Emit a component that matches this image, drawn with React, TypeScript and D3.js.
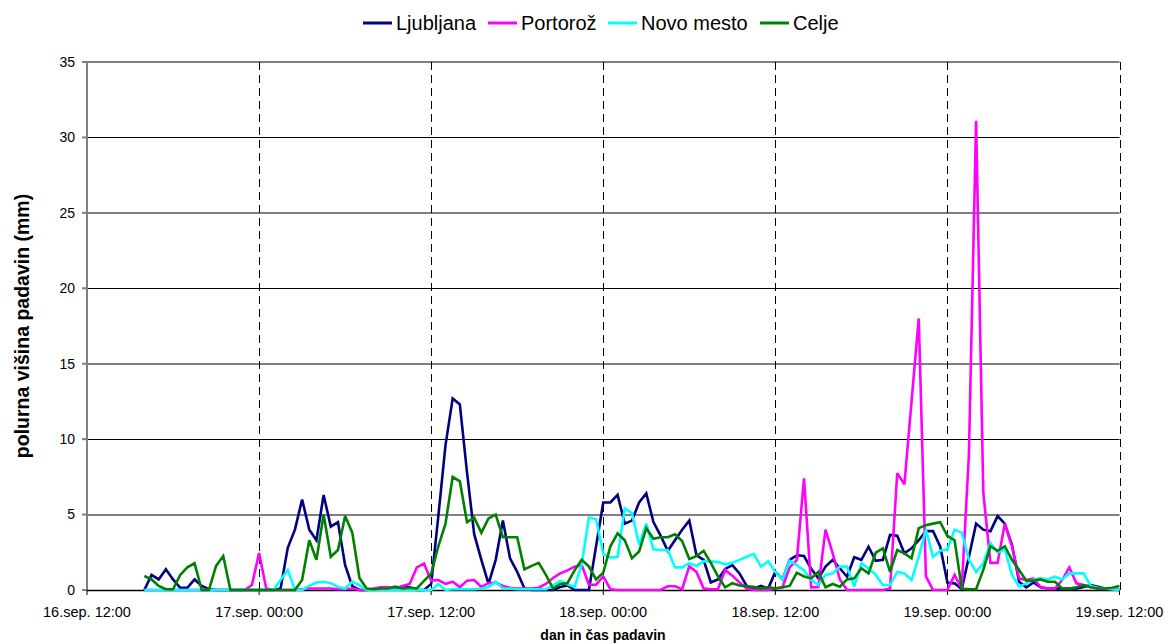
import React from "react";
import * as d3 from "d3";

// Half-hourly precipitation (mm), from 16.sep 16:00 to 19.sep 12:00
const seriesNames = ["Ljubljana", "Portorož", "Novo mesto", "Celje"];
const seriesColors = ["#000080", "#FF00FF", "#00FFFF", "#008000"];

const ljubljana = [
  0, 1.0, 0.7, 1.37, 0.7, 0.15, 0.15, 0.7, 0.27, 0.05, 0, 0, 0, 0, 0, 0, 0, 0, 0, 0.1,
  2.8, 4.0, 6.0, 4.0, 3.3, 6.3, 4.2, 4.5, 1.65, 0.25, 0, 0, 0.05, 0.18, 0.05, 0.1, 0.22, 0.18, 0, 0,
  0.4, 4.9, 9.6, 12.7, 12.3, 7.8, 3.7, 2.0, 0.4, 2.0, 4.6, 2.1, 1.2, 0.1, 0, 0, 0, 0, 0.2, 0.3,
  0, 0, 0, 2.9, 5.8, 5.8, 6.3, 4.4, 4.6, 5.8, 6.4, 4.5, 3.6, 2.6, 3.3, 4.0, 4.6, 2.3, 2.0, 0.5,
  0.7, 1.4, 1.65, 1.1, 0.27, 0.1, 0.27, 0.1, 1.2, 0.7, 2.0, 2.3, 2.25, 1.4, 0.77, 1.55, 2.0, 1.44, 0.88, 2.17,
  2.0, 2.87, 1.94, 2.0, 3.65, 3.6, 2.43, 2.76, 3.3, 3.9, 3.9, 2.87, 0.5, 0.44, 0.05, 2.2, 4.4, 4.0, 3.9, 4.9,
  4.4, 3.0, 0.55, 0.18, 0.5, 0.18, 0.1, 0.1, 0.1, 0.1, 0.1, 0.2, 0.33, 0.22, 0.1, 0.05, 0,
];
const portoroz = [
  0, 0, 0, 0, 0, 0, 0, 0, 0, 0, 0, 0, 0, 0, 0, 0.33, 2.45, 0.1, 0, 0,
  0, 0, 0.05, 0.1, 0.1, 0.1, 0.1, 0.05, 0.05, 0.1, 0, 0, 0.1, 0.18, 0.2, 0.1, 0.27, 0.4, 1.5, 1.75,
  0.62, 0.66, 0.4, 0.55, 0.18, 0.62, 0.66, 0.2, 0.45, 0.5, 0.27, 0.15, 0.1, 0.1, 0.1, 0.15, 0.4, 0.8, 1.1, 1.3,
  1.55, 1.65, 0.35, 0.35, 0.9, 0.05, 0, 0, 0, 0, 0, 0, 0, 0.25, 0.25, 0.05, 1.58, 1.2, 0.1, 0.05,
  0.05, 1.33, 0.95, 0.5, 0.1, 0, 0, 0, 0.1, 0.18, 1.5, 2.0, 7.4, 0.18, 0.2, 4.0, 2.43, 0.7, 0, 0,
  0, 0, 0, 0, 0.1, 7.75, 7.0, 12.5, 18.0, 0.9, 0, 0, 0, 1.0, 0.1, 9.0, 31.1, 6.5, 1.8, 1.8,
  4.4, 2.9, 0.77, 0.66, 0.77, 0.2, 0.1, 0.1, 0.66, 1.5, 0.44, 0.33, 0.18, 0.1, 0.1, 0.05, 0,
];
const novoMesto = [
  0, 0, 0, 0, 0, 0, 0, 0, 0, 0, 0, 0, 0, 0, 0, 0, 0, 0, 0, 0.66,
  1.33, 0, 0, 0.27, 0.5, 0.55, 0.45, 0.2, 0.1, 0.55, 0.3, 0, 0, 0, 0, 0, 0, 0, 0, 0,
  0, 0.4, 0, 0.05, 0.05, 0.05, 0.05, 0.1, 0.2, 0.55, 0.1, 0.1, 0.05, 0.05, 0.05, 0.05, 0.05, 0.3, 0.6, 0.38,
  0.2, 1.7, 4.8, 4.7, 2.4, 2.15, 2.2, 5.4, 5.1, 3.0, 4.4, 2.7, 2.65, 2.65, 1.5, 1.5, 1.77, 1.6, 1.9, 1.9,
  1.85, 1.7, 1.8, 2.0, 2.2, 2.4, 1.55, 1.9, 1.2, 0.7, 1.95, 1.65, 1.3, 0.66, 0.33, 1.0, 1.1, 1.55, 1.55, 0.22,
  1.77, 1.44, 1.0, 0.33, 0.33, 1.2, 1.1, 0.66, 2.2, 4.0, 2.2, 2.6, 2.7, 4.0, 3.8, 2.0, 1.2, 1.77, 3.1, 2.5,
  2.7, 1.0, 0.22, 0.44, 0.7, 0.77, 0.7, 0.88, 0.7, 1.1, 1.1, 1.1, 0.27, 0.15, 0.1, 0.05, 0,
];
const celje = [
  0.93, 0.7, 0.27, 0.05, 0.05, 1.0, 1.5, 1.77, 0, 0, 1.6, 2.25, 0, 0, 0, 0, 0, 0, 0, 0,
  0, 0, 0.66, 3.3, 2.0, 5.0, 2.2, 2.65, 4.9, 3.8, 0.8, 0.1, 0.05, 0.1, 0.1, 0.22, 0.1, 0.15, 0.1, 0.6,
  1.08, 2.9, 4.4, 7.5, 7.2, 4.5, 4.8, 3.8, 4.75, 5.0, 3.5, 3.5, 3.5, 1.37, 1.6, 1.8, 1.0, 0.1, 0.4, 0.45,
  1.3, 2.0, 1.55, 0.7, 1.15, 2.9, 3.76, 3.3, 2.1, 2.55, 4.1, 3.4, 3.5, 3.5, 3.7, 3.25, 2.05, 2.25, 2.6, 1.8,
  0.9, 0.18, 0.45, 0.3, 0.25, 0.22, 0.08, 0.2, 0.1, 0.18, 0.27, 1.15, 0.9, 0.77, 1.2, 0.18, 0.4, 0.22, 0.7, 0.77,
  1.44, 1.1, 2.47, 2.76, 1.2, 2.65, 2.43, 2.1, 4.1, 4.3, 4.4, 4.5, 3.58, 3.3, 0.1, 0.05, 0.05, 1.33, 2.9, 2.6,
  2.9, 2.0, 1.33, 0.62, 0.62, 0.7, 0.55, 0.55, 0.1, 0.1, 0.18, 0.33, 0.18, 0.1, 0.1, 0.15, 0.27,
];

const xTickLabels = [
  "16.sep. 12:00",
  "17.sep. 00:00",
  "17.sep. 12:00",
  "18.sep. 00:00",
  "18.sep. 12:00",
  "19.sep. 00:00",
  "19.sep. 12:00",
];
const yTicks = [0, 5, 10, 15, 20, 25, 30, 35];

const axisStart = new Date(2010, 8, 16, 12, 0);
const axisEnd = new Date(2010, 8, 19, 12, 0);
const dataStart = new Date(2010, 8, 16, 16, 0);

export default function App() {
  const W = 1168;
  const H = 644;
  const left = 87;
  const right = 1119.5;
  const top = 62;
  const bottom = 590;

  const x = d3.scaleTime().domain([axisStart, axisEnd]).range([left, right]);
  const y = d3.scaleLinear().domain([0, 35]).range([bottom, top]);
  const tickDates = d3.timeHour.every(12)!.range(axisStart, d3.timeMinute.offset(axisEnd, 1));

  const allSeries = [ljubljana, portoroz, novoMesto, celje];
  const line = d3
    .line<number>()
    .x((_, i) => x(d3.timeMinute.offset(dataStart, 30 * i)))
    .y((d) => y(d));

  const legendX = [363, 488, 608, 760];

  return (
    <svg
      width={W}
      height={H}
      style={{ position: "absolute", left: 0, top: 0, background: "#fff" }}
      fontFamily="Arial, 'Liberation Sans', sans-serif"
    >
      {/* horizontal gridlines */}
      {yTicks.map((t) =>
        t === 0 ? null : (
          <line
            key={"g" + t}
            x1={left}
            x2={right}
            y1={Math.round(y(t)) + (t % 10 === 0 ? 0.5 : 0)}
            y2={Math.round(y(t)) + (t % 10 === 0 ? 0.5 : 0)}
            stroke={t % 10 === 0 || t === 35 ? "#000" : "#808080"}
            strokeWidth={t % 10 === 0 || t === 35 ? 1 : 2}
          />
        )
      )}
      {/* vertical dashed lines */}
      {tickDates.slice(1).map((d, i) => (
        <line
          key={"v" + i}
          x1={Math.round(x(d)) + 0.5}
          x2={Math.round(x(d)) + 0.5}
          y1={top}
          y2={bottom}
          stroke="#000"
          strokeWidth={1}
          strokeDasharray="8,5"
        />
      ))}
      {/* y axis */}
      <line x1={left} x2={left} y1={top} y2={bottom} stroke="#808080" strokeWidth={2} />
      {yTicks.map((t) => (
        <g key={"yt" + t}>
          <line x1={left - 5} x2={left} y1={y(t)} y2={y(t)} stroke="#808080" strokeWidth={2} />
          <text x={left - 12} y={y(t)} dy="0.35em" textAnchor="end" fontSize={14} fill="#000">
            {t}
          </text>
        </g>
      ))}
      {/* x axis */}
      <line x1={left} x2={right} y1={bottom + 0.5} y2={bottom + 0.5} stroke="#000" strokeWidth={1.5} />
      {tickDates.map((d, i) => (
        <g key={"xt" + i}>
          <line x1={x(d)} x2={x(d)} y1={bottom} y2={bottom + 5} stroke="#000" strokeWidth={1} />
          <text x={x(d)} y={bottom + 27} textAnchor="middle" fontSize={14.5} fill="#000">
            {xTickLabels[i]}
          </text>
        </g>
      ))}
      {/* series */}
      {allSeries.map((s, k) => (
        <path
          key={"s" + k}
          d={line(s) || ""}
          fill="none"
          stroke={seriesColors[k]}
          strokeWidth={2.6}
          strokeLinejoin="miter"
          strokeMiterlimit={3}
        />
      ))}
      {/* legend */}
      {seriesNames.map((n, k) => (
        <g key={"l" + k}>
          <line
            x1={legendX[k]}
            x2={legendX[k] + 29}
            y1={23}
            y2={23}
            stroke={seriesColors[k]}
            strokeWidth={3}
          />
          <text x={legendX[k] + 33} y={30} fontSize={20} fill="#000">
            {n}
          </text>
        </g>
      ))}
      {/* axis titles */}
      <text
        transform={`translate(29, ${(top + bottom) / 2}) rotate(-90)`}
        textAnchor="middle"
        fontSize={19.5}
        fontWeight="bold"
        fill="#000"
      >
        polurna višina padavin (mm)
      </text>
      <text x={603} y={640} textAnchor="middle" fontSize={14} fontWeight="bold" fill="#000">
        dan in čas padavin
      </text>
    </svg>
  );
}
